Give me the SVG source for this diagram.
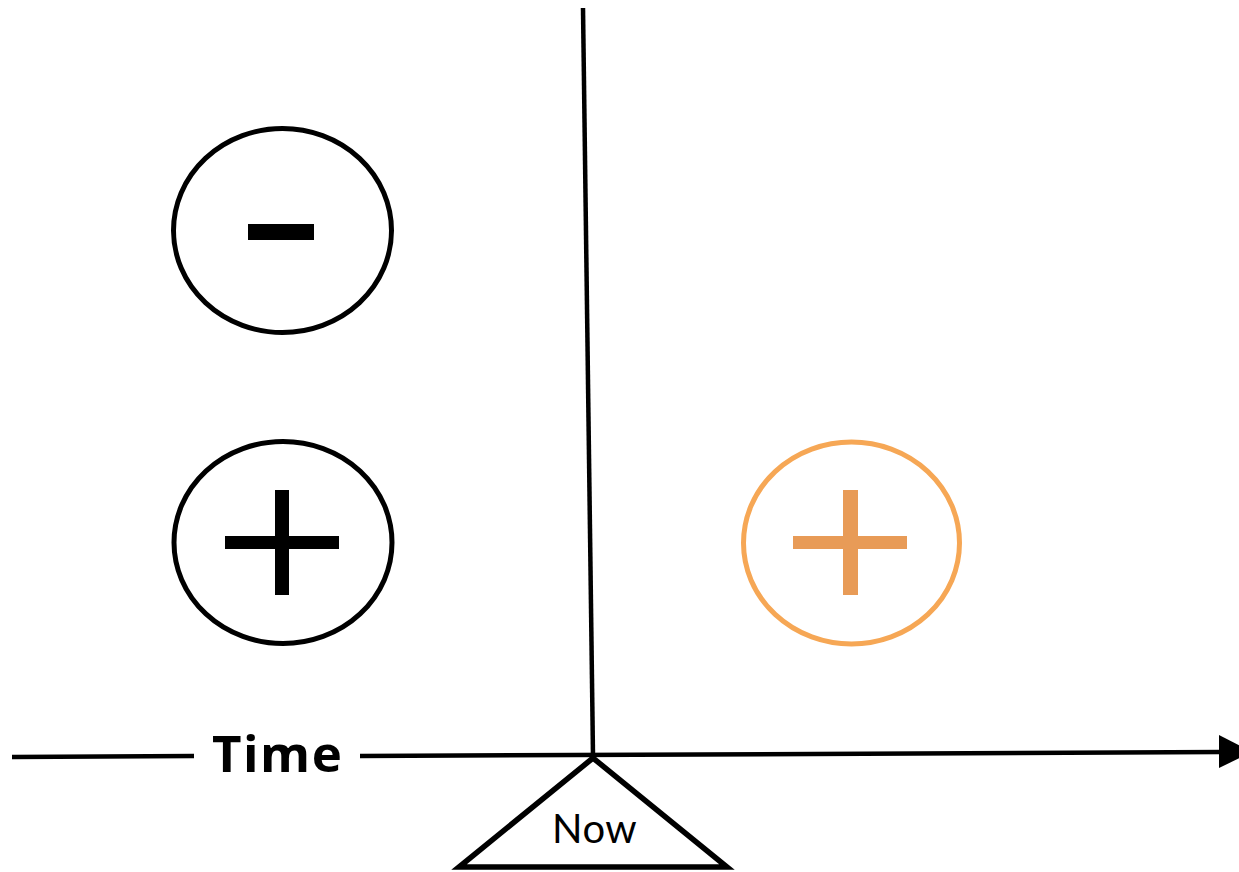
<svg xmlns="http://www.w3.org/2000/svg" width="1239" height="872" viewBox="0 0 1239 872">
<style>
.ln{stroke:#000;stroke-width:4.5;fill:none;stroke-linecap:butt}
.ring{fill:none;stroke:#000;stroke-width:5}
.ring-o{fill:none;stroke:#F6A755;stroke-width:5}
.blk{fill:#000}
.org{fill:#E89B57}
.t{font-family:"Open Sans",Lato,"Liberation Sans",sans-serif;fill:#000}
.n{font-family:Lato,"Open Sans","Liberation Sans",sans-serif;fill:#000}
</style>
<rect width="1239" height="872" fill="#fff"/>
<g id="connectors">
<line class="ln" x1="583" y1="8" x2="593" y2="755"/>
<line class="ln" x1="12" y1="757" x2="194" y2="756"/>
<line class="ln" x1="360" y1="756" x2="1222" y2="752"/>
<polygon class="blk" points="1219,735 1252,752 1219,768"/>
</g>
<g id="minus-past">
<ellipse class="ring" cx="282.5" cy="230.5" rx="109" ry="102"/>
<rect class="blk" x="248" y="224" width="66" height="16"/>
</g>
<g id="plus-past">
<ellipse class="ring" cx="283" cy="542.5" rx="109" ry="101"/>
<rect class="blk" x="225" y="536" width="114" height="13"/>
<rect class="blk" x="275" y="490" width="14" height="105"/>
</g>
<g id="plus-future">
<ellipse class="ring-o" cx="851.5" cy="543" rx="108" ry="101"/>
<rect class="org" x="793" y="536" width="114" height="13"/>
<rect class="org" x="843" y="490" width="15" height="105"/>
</g>
<g id="time-label">
<text class="t" x="212" y="772" font-size="51" font-weight="bold" letter-spacing="1.5">Time</text>
</g>
<g id="now">
<polygon points="593,758 459,867 727,867" fill="none" stroke="#000" stroke-width="5.5" stroke-linejoin="miter"/>
<text class="n" x="552" y="843" font-size="40" letter-spacing="0.5">Now</text>
</g>
</svg>
